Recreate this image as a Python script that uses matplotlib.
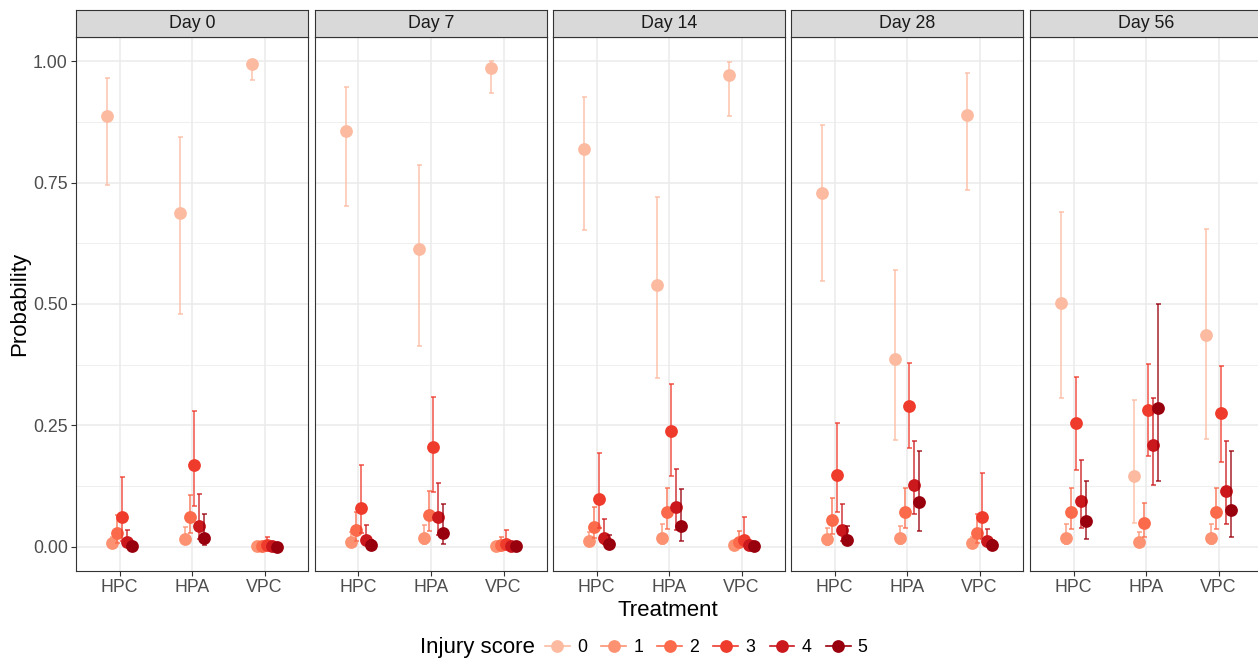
import matplotlib
matplotlib.use("Agg")
import matplotlib.pyplot as plt
from matplotlib.lines import Line2D
import numpy as np

days = ["Day 0", "Day 7", "Day 14", "Day 28", "Day 56"]
treatments = ["HPC", "HPA", "VPC"]
scores = ["0", "1", "2", "3", "4", "5"]
colors = ["#FCBBA1", "#FC9272", "#FB6A4A", "#EF3B2C", "#CB181D", "#99000D"]

# estimates[day][treatment][score]
est = {
    "Day 0": {
        "HPC": [0.888, 0.008, 0.029, 0.061, 0.009, 0.002],
        "HPA": [0.687, 0.016, 0.061, 0.169, 0.043, 0.017],
        "VPC": [0.994, 0.001, 0.002, 0.003, 0.001, 0.000],
    },
    "Day 7": {
        "HPC": [0.857, 0.009, 0.035, 0.079, 0.013, 0.004],
        "HPA": [0.614, 0.017, 0.065, 0.205, 0.061, 0.029],
        "VPC": [0.987, 0.002, 0.004, 0.006, 0.002, 0.001],
    },
    "Day 14": {
        "HPC": [0.819, 0.012, 0.041, 0.098, 0.018, 0.006],
        "HPA": [0.539, 0.017, 0.071, 0.238, 0.081, 0.043],
        "VPC": [0.972, 0.004, 0.009, 0.013, 0.004, 0.002],
    },
    "Day 28": {
        "HPC": [0.728, 0.015, 0.055, 0.148, 0.035, 0.013],
        "HPA": [0.387, 0.017, 0.072, 0.289, 0.128, 0.092],
        "VPC": [0.889, 0.008, 0.029, 0.061, 0.012, 0.004],
    },
    "Day 56": {
        "HPC": [0.502, 0.017, 0.072, 0.254, 0.094, 0.054],
        "HPA": [0.146, 0.010, 0.049, 0.282, 0.209, 0.285],
        "VPC": [0.436, 0.017, 0.072, 0.276, 0.114, 0.075],
    },
}
lower = {
    "Day 0": {
        "HPC": [0.745, 0.002, 0.008, 0.012, 0.002, 0.000],
        "HPA": [0.480, 0.005, 0.029, 0.083, 0.016, 0.004],
        "VPC": [0.962, 0.000, 0.000, 0.000, 0.000, 0.000],
    },
    "Day 7": {
        "HPC": [0.701, 0.002, 0.012, 0.028, 0.004, 0.001],
        "HPA": [0.413, 0.006, 0.033, 0.113, 0.024, 0.006],
        "VPC": [0.935, 0.000, 0.000, 0.000, 0.000, 0.000],
    },
    "Day 14": {
        "HPC": [0.652, 0.003, 0.017, 0.039, 0.006, 0.001],
        "HPA": [0.348, 0.006, 0.037, 0.146, 0.035, 0.012],
        "VPC": [0.888, 0.000, 0.001, 0.004, 0.000, 0.000],
    },
    "Day 28": {
        "HPC": [0.547, 0.004, 0.026, 0.071, 0.012, 0.004],
        "HPA": [0.220, 0.006, 0.038, 0.203, 0.067, 0.033],
        "VPC": [0.735, 0.001, 0.008, 0.016, 0.002, 0.000],
    },
    "Day 56": {
        "HPC": [0.307, 0.006, 0.037, 0.159, 0.039, 0.016],
        "HPA": [0.049, 0.004, 0.020, 0.187, 0.128, 0.135],
        "VPC": [0.222, 0.006, 0.037, 0.175, 0.047, 0.021],
    },
}
upper = {
    "Day 0": {
        "HPC": [0.965, 0.020, 0.065, 0.143, 0.035, 0.008],
        "HPA": [0.844, 0.041, 0.106, 0.280, 0.108, 0.067],
        "VPC": [1.000, 0.003, 0.006, 0.020, 0.004, 0.001],
    },
    "Day 7": {
        "HPC": [0.946, 0.030, 0.071, 0.169, 0.045, 0.014],
        "HPA": [0.786, 0.045, 0.114, 0.309, 0.131, 0.089],
        "VPC": [1.000, 0.006, 0.020, 0.035, 0.006, 0.003],
    },
    "Day 14": {
        "HPC": [0.926, 0.031, 0.081, 0.194, 0.057, 0.024],
        "HPA": [0.720, 0.046, 0.120, 0.336, 0.161, 0.118],
        "VPC": [0.998, 0.012, 0.033, 0.061, 0.012, 0.005],
    },
    "Day 28": {
        "HPC": [0.869, 0.039, 0.100, 0.254, 0.087, 0.043],
        "HPA": [0.571, 0.043, 0.122, 0.378, 0.217, 0.198],
        "VPC": [0.976, 0.020, 0.067, 0.151, 0.037, 0.014],
    },
    "Day 56": {
        "HPC": [0.689, 0.046, 0.122, 0.350, 0.179, 0.135],
        "HPA": [0.303, 0.031, 0.091, 0.376, 0.307, 0.500],
        "VPC": [0.655, 0.046, 0.122, 0.372, 0.217, 0.197],
    },
}

plt.rcParams["font.family"] = ["Liberation Sans", "DejaVu Sans"]
W, H = 1258, 661
fig = plt.figure(figsize=(W / 100, H / 100), dpi=100)

panel_left = [76, 315, 553, 791, 1030]
panel_w = 232
panel_top, panel_bot = 37, 571
strip_top = 10

dodge = 0.4
n = len(scores)
offsets = [(i - (n - 1) / 2) * dodge / n for i in range(n)]

tick_col = "#4D4D4D"
for p, day in enumerate(days):
    l = panel_left[p] / W
    b = (H - panel_bot) / H
    ax = fig.add_axes([l, b, panel_w / W, (panel_bot - panel_top) / H])
    sax = fig.add_axes([l, (H - panel_top) / H, panel_w / W, (panel_top - strip_top) / H])
    sax.set_facecolor("#D9D9D9")
    sax.set_xticks([]); sax.set_yticks([])
    for s in sax.spines.values():
        s.set_color("#333333"); s.set_linewidth(0.8)
    sax.text(0.5, 0.5, day, ha="center", va="center", fontsize=12.8, color="#1A1A1A",
             transform=sax.transAxes)

    ax.set_xlim(0.4, 3.6)
    ax.set_ylim(-0.05, 1.05)
    ax.set_axisbelow(True)
    ax.set_yticks([0, 0.25, 0.5, 0.75, 1.0])
    ax.set_yticks([0.125, 0.375, 0.625, 0.875], minor=True)
    ax.set_xticks([1, 2, 3])
    ax.set_xticklabels(treatments, fontsize=12.8, color=tick_col)
    ax.grid(True, which="major", color="#EBEBEB", linewidth=1.1)
    ax.grid(True, which="minor", axis="y", color="#EBEBEB", linewidth=0.55)
    ax.tick_params(axis="both", which="minor", length=0)
    ax.tick_params(axis="both", which="major", length=3.5, width=0.8, color="#333333", pad=2.5)
    if p == 0:
        ax.set_yticklabels(["0.00", "0.25", "0.50", "0.75", "1.00"], fontsize=12.8, color=tick_col)
    else:
        ax.tick_params(axis="y", which="major", length=0, labelleft=False)
    for s in ax.spines.values():
        s.set_color("#333333"); s.set_linewidth(0.8)

    for t, tr in enumerate(treatments):
        for i in range(n):
            x = t + 1 + offsets[i]
            e = est[day][tr][i]
            lo = lower[day][tr][i]
            hi = upper[day][tr][i]
            ax.errorbar([x], [e], yerr=[[e - lo], [hi - e]], fmt="none",
                        ecolor=colors[i], alpha=0.8, elinewidth=1.2, capsize=1.8,
                        capthick=1.2, zorder=2 + i)
            ax.plot([x], [e], "o", color=colors[i], markersize=9.2,
                    markeredgewidth=0, zorder=3 + i)

fig.text(20 / W, 1 - 304 / H, "Probability", rotation=90, ha="center", va="center",
         fontsize=16, color="black")
fig.text(668 / W, 1 - 610 / H, "Treatment", ha="center", va="center", fontsize=16, color="black")

fig.text(420 / W, 1 - 648 / H, "Injury score", ha="left", va="center", fontsize=16, color="black")
handles = [Line2D([0], [0], color=c, marker="o", markersize=9.2, markeredgewidth=0,
                  linewidth=1.2) for c in colors]
fig.legend(handles, scores, loc="center left", bbox_to_anchor=(545 / W, 1 - 648 / H),
           ncol=6, frameon=False, fontsize=12.8, handlelength=1.4, handletextpad=0.4,
           columnspacing=0.8, borderaxespad=0, borderpad=0)

fig.savefig("out.png", dpi=100)
